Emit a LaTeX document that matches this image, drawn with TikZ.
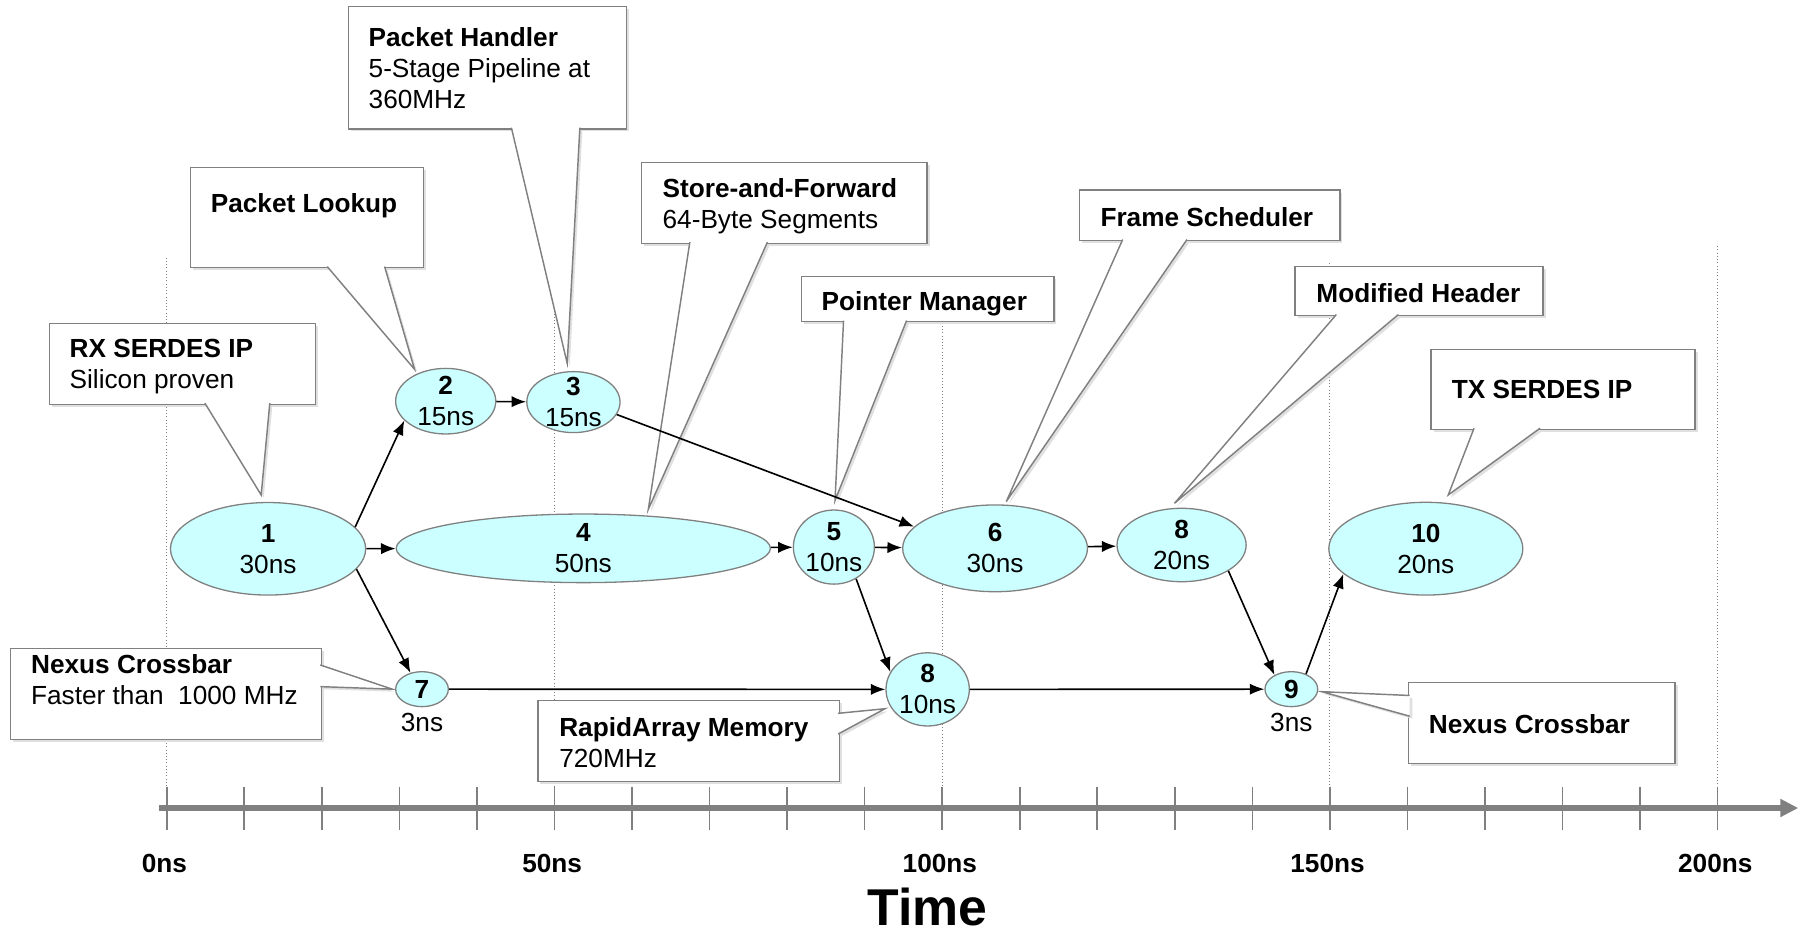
\documentclass[tikz,border=0pt]{standalone}
\usepackage{fontspec}
\setmainfont{Liberation Sans}
\usetikzlibrary{shapes.geometric,arrows.meta,fit,calc,shadows}
\definecolor{stagefill}{RGB}{204,255,255}
\definecolor{linegray}{RGB}{128,128,128}

\begin{document}
\begin{tikzpicture}[x=0.025cm, y=-0.025cm, font=\fontsize{16.2}{19.2}\selectfont]
  \useasboundingbox (0,0) rectangle (1568,815);  % Rand wie im Original.
  \tikzstyle{stage}=[ellipse, draw=linegray, fill=stagefill, line width=0.8pt, inner sep=-0.1cm, align=center]
  \tikzstyle{flow}=[-{Latex[length=9pt,width=7pt]}, line width=1pt]
  \tikzstyle{note}=[draw=linegray, fill=white, line width=0.9pt, inner sep=0pt, drop shadow={shadow xshift=1.6pt, shadow yshift=-1.6pt, fill=black!12, opacity=1}]
  \tikzstyle{pointer}=[draw=linegray, fill=white, line width=0.9pt, preaction={fill=black!12, transform canvas={shift={(1.6pt,-1.6pt)}}}]
  \tikzstyle{notetext}=[anchor=north west, inner sep=0pt, align=left]
  \tikzstyle{grid}=[draw=linegray, line width=0.6pt, dash pattern=on 0.6pt off 1.4pt]
  \tikzstyle{tick}=[draw=linegray, line width=1pt]
  \tikzstyle{axis}=[draw=linegray, line width=3.5pt, -{Triangle[length=11pt,width=10.5pt]}]

  % Raster und Zeitachse.
  \foreach \ns/\ya in {0/224, 50/222, 100/241, 150/229, 200/214}
    \draw[grid] (144.9+6.74*\ns, \ya) -- (144.9+6.74*\ns, 684);

  % Sprechblasen.
  \node[note, fit={(302.8,5.8) (544.7,112)}] (handler) {};
  \path[pointer] (444.5,111) -- (493,315.8) -- (504,111);
  \node[notetext] (handlertext) at ($(handler.north west)+(18,18.6)$) {\textbf{Packet Handler}\\5-Stage Pipeline at\\360MHz};

  \node[note, fit={(165.6,145.5) (368.3,232.7)}] (lookup) {};
  \path[pointer] (284.4,231.7) -- (360.3,321) -- (334.3,231.7);
  \node[notetext] (lookuptext) at ($(lookup.north west)+(18,23.1)$) {\textbf{Packet Lookup}};

  \node[note, fit={(42.9,281) (274.4,351.4)}] (rx) {};
  \path[pointer] (178.1,350.4) -- (227,430.2) -- (234.5,350.4);
  \node[notetext] (rxtext) at ($(rx.north west)+(18,14)$) {\textbf{RX SERDES IP}\\Silicon proven};

  \node[note, fit={(557.8,141.1) (805.8,211.5)}] (store) {};
  \path[pointer] (599.6,210.5) -- (563.5,442.7) -- (667,210.5);
  \node[notetext] (storetext) at ($(store.north west)+(18.5,14.5)$) {\textbf{Store-and-Forward}\\64-Byte Segments};

  \node[note, fit={(696.5,240.5) (916,279.6)}] (pointer) {};
  \path[pointer] (733.2,278.6) -- (725.8,435) -- (788,278.6);
  \node[notetext] (pointertext) at ($(pointer.north west)+(18,13.5)$) {\textbf{Pointer Manager}};

  \node[note, fit={(938.5,165.1) (1164.5,209.2)}] (sched) {};
  \path[pointer] (975.8,208.2) -- (874.6,436) -- (1031.7,208.2);
  \node[notetext] (schedtext) at ($(sched.north west)+(18.4,15.4)$) {\textbf{Frame Scheduler}};

  \node[note, fit={(1125.6,231.8) (1341.1,274.4)}] (header) {};
  \path[pointer] (1161.5,273.4) -- (1020.8,437.5) -- (1215.4,273.4);
  \node[notetext] (headertext) at ($(header.north west)+(19,15)$) {\textbf{Modified Header}};

  \node[note, fit={(1243.8,303.6) (1473.3,373.2)}] (tx) {};
  \path[pointer] (1281.2,372.2) -- (1258.8,430.2) -- (1338.6,372.2);
  \node[notetext] (txtext) at ($(tx.north west)+(18.4,27.3)$) {\textbf{TX SERDES IP}};

  \node[note, fit={(9,563.5) (279.4,642.6)}] (xbarleft) {};
  \path[pointer] (278.4,578) -- (341,599) -- (278.4,596.8);
  \node[notetext] (xbarlefttext) at ($(xbarleft.north west)+(18.4,5.8)$) {\textbf{Nexus Crossbar}\\Faster than~ 1000 MHz};

  \node[note, fit={(467.5,609) (729.5,679.4)}] (memory) {};
  \path[pointer] (728.5,620) -- (769.2,616) -- (728.5,638);
  \node[notetext] (memorytext) at ($(memory.north west)+(19,15.3)$) {\textbf{RapidArray Memory}\\720MHz};

  \node[note, fit={(1224.3,593.1) (1455.9,663.5)}] (xbarright) {};
  \path[pointer] (1225.3,604.5) -- (1148.8,601.2) -- (1225.3,622.5);
  \node[notetext] (xbarrighttext) at ($(xbarright.north west)+(18,28.4)$) {\textbf{Nexus Crossbar}};

  % Stufen.
  \node[stage, minimum width=4.24cm, minimum height=2.01cm] (n1) at (233, 477) {\textbf{1}\\30ns};
  \node[stage, minimum width=2.175cm, minimum height=1.425cm] (n2) at (387.4, 348.7) {\textbf{2}\\15ns};
  \node[stage, minimum width=2.025cm, minimum height=1.325cm] (n3) at (498.4, 349.5) {\textbf{3}\\15ns};
  \node[stage, minimum width=8.13cm, minimum height=1.49cm] (n4) at (507, 476.6) {\textbf{4}\\50ns};
  \node[stage, minimum width=1.76cm, minimum height=1.61cm] (n5) at (724.8, 475.5) {\textbf{5}\\10ns};
  \node[stage, minimum width=4.015cm, minimum height=1.885cm] (n6) at (864.9, 476.6) {\textbf{6}\\30ns};
  \node[stage, minimum width=2.805cm, minimum height=1.595cm] (n8) at (1027, 473.7) {\textbf{8}\\20ns};
  \node[stage, minimum width=4.215cm, minimum height=2.015cm] (n10) at (1239.3, 476.9) {\textbf{10}\\20ns};
  \node[stage, minimum width=1.145cm, minimum height=0.76cm, label=below:3ns] (n7) at (366.8, 599) {\textbf{7}};
  \node[stage, minimum width=1.81cm, minimum height=1.59cm] (m8) at (806.3, 599.2) {\textbf{8}\\10ns};
  \node[stage, minimum width=1.145cm, minimum height=0.76cm, label=below:3ns] (n9) at (1122.4, 599) {\textbf{9}};

  \draw[flow] (n1.14) -- (n2.205);
  \draw[flow] (n2) -- (n3);
  \draw[flow] (n3.-16) -- (n6.165);
  \draw[flow] (n1) -- (n4);
  \draw[flow] (n1.-13) -- (n7.125);
  \draw[flow] (n4) -- (n5);
  \draw[flow] (n5) -- (n6);
  \draw[flow] (n5.-55) -- (m8.155);
  \draw[flow] (n7) -- (m8);
  \draw[flow] (n6) -- (n8);
  \draw[flow] (n8.-29) -- (n9.140);
  \draw[flow] (m8) -- (n9);
  \draw[flow] (n9.46) -- (n10.197);

  \draw[axis] (138.5,702.3) -- (1563,702.3);
  \foreach \ns in {0,10,...,200}
    \draw[tick] (144.9+6.74*\ns, 684) -- (144.9+6.74*\ns, 721);
  \foreach \ns in {0,50,...,200}
    \node[font=\fontsize{16.2}{19.2}\selectfont\bfseries, anchor=base] (t\ns) at (142.9+6.74*\ns, 758) {\ns ns};
  \node[font=\fontsize{32}{36}\selectfont\bfseries, anchor=base, inner sep=0pt] (time) at (806, 804) {Time};
\end{tikzpicture}
\end{document}
